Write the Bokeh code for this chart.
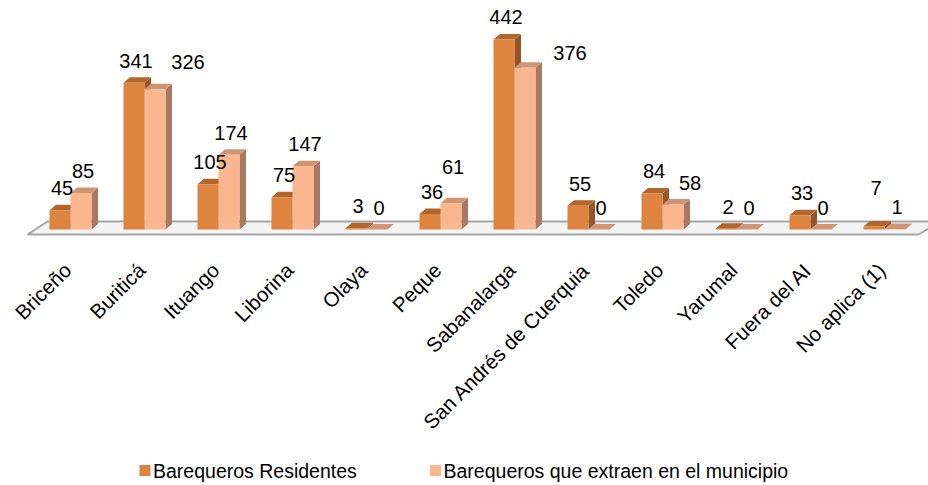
import math
from bokeh.plotting import figure
from bokeh.models import Range1d
from bokeh.core.properties import value
from bokeh.embed import file_html
from bokeh.resources import INLINE

# ---------------- data ----------------
categories = ["Briceño", "Buriticá", "Ituango", "Liborina", "Olaya", "Peque",
              "Sabanalarga", "San Andrés de Cuerquia", "Toledo", "Yarumal",
              "Fuera del AI", "No aplica (1)"]
residentes = [45, 341, 105, 75, 3, 36, 442, 55, 84, 2, 33, 7]
extraen = [85, 326, 174, 147, 0, 61, 376, 0, 58, 0, 0, 1]
series_names = ["Barequeros Residentes", "Barequeros que extraen en el municipio"]

# ---------------- layout (window pixels) ----------------
W, H = 928, 485
CAT0_PX, CAT_STEP_PX = 70.0, 74.0
BASE_PX, PX_PER_UNIT = 229.0, 0.43
BAR_W_PX, DEPTH_DX_PX, DEPTH_DY_PX = 21.0, 6.5, 5.5
FONT = "Liberation Sans"

def xd(px):
    return (px - CAT0_PX) / CAT_STEP_PX

def yd(py):
    return (BASE_PX - py) / PX_PER_UNIT

def dxd(px):
    return px / CAT_STEP_PX

def dyd(px):
    return px / PX_PER_UNIT

# styles
front_colors = ["#DC8440", "#FAB68E"]
top_colors = ["#B2662C", "#CF9474"]
side_colors = ["#965528", "#AA7860"]
# pixel nudges for some value labels (series, index) -> (dx, dy) ; dy positive = down
label_nudge = {(1, 1): (31, -5), (1, 6): (43, 7), (1, 8): (15, 0),
               (1, 5): (0, -14), (0, 11): (0, -16)}

p = figure(width=W, height=H, output_backend="svg", toolbar_location=None,
           x_range=Range1d(xd(0), xd(W)), y_range=Range1d(yd(H), yd(0)),
           x_axis_location=None, y_axis_location=None, min_border=0)
p.grid.visible = False
p.outline_line_color = None
p.background_fill_color = "white"

# floor
p.patch([xd(27), xd(918), xd(940), xd(47)], [yd(234), yd(234), yd(221), yd(221)],
        fill_color="#F4F4F4", line_color="#A6A6A6", line_width=2)

bw = dxd(BAR_W_PX)
ddx = dxd(DEPTH_DX_PX)
ddy = dyd(DEPTH_DY_PX)

for s, vals in enumerate([residentes, extraen]):
    idx = list(range(len(categories)))
    left = [i - bw + s * bw for i in idx]
    right = [l + bw for l in left]
    # side faces
    p.patches([[r, r, r + ddx, r + ddx] for r in right],
              [[0, v, v + ddy, ddy] for v in vals],
              fill_color=side_colors[s], line_color=None)
    # top faces
    p.patches([[l, r, r + ddx, l + ddx] for l, r in zip(left, right)],
              [[v, v, v + ddy, v + ddy] for v in vals],
              fill_color=top_colors[s], line_color=None)
    # fronts
    p.quad(left=left, right=right, bottom=0, top=vals,
           fill_color=front_colors[s], line_color=None)

# value labels
for s, vals in enumerate([residentes, extraen]):
    xs, ys, txt = [], [], []
    for i, v in enumerate(vals):
        nx, ny = label_nudge.get((s, i), (0, 0))
        cx = i - bw / 2 + s * bw
        xs.append(cx + dxd(2 + nx))
        ys.append(v + dyd(22 - ny))
        txt.append(str(v))
    p.text(x=xs, y=ys, text=txt, text_font=value(FONT), text_font_size="20px",
           text_align="center", text_baseline="middle", text_color="black")

# category labels
p.text(x=[i + dxd(-3) for i in range(len(categories))],
       y=[yd(266)] * len(categories), text=categories, angle=math.pi / 4,
       text_font=value(FONT), text_font_size="20.5px", text_align="right",
       text_baseline="middle", text_color="black")

# legend
legend_sq_px = [144.5, 435]
for s, name in enumerate(series_names):
    p.scatter([xd(legend_sq_px[s])], [yd(470)], marker="square", size=11,
              fill_color=front_colors[s], line_color=None)
    p.text([xd(legend_sq_px[s] + 8)], [yd(470)], text=[name],
           text_font=value(FONT), text_font_size="19.5px", text_align="left",
           text_baseline="middle", text_color="black")

open("out.html", "w").write(file_html(p, INLINE))
